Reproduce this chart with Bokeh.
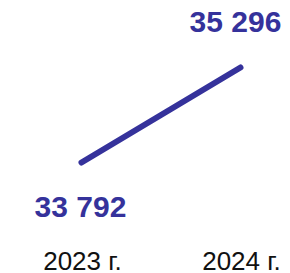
from bokeh.plotting import figure
from bokeh.models import Range1d, ColumnDataSource
from bokeh.embed import file_html
from bokeh.resources import INLINE
from bokeh.core.properties import value

years = [2023, 2024]
year_labels = ["2023 г.", "2024 г."]
values = [33792, 35296]
value_labels = ["33 792", "35 296"]

LINE_COLOR = "#35329b"

y_range = Range1d(32035, 36357)
x_range = Range1d(2022.4906, 2024.3145)

src = ColumnDataSource(dict(x=years, y=values, label=value_labels))
src_low = ColumnDataSource(dict(x=years[:1], y=values[:1], label=value_labels[:1]))
src_high = ColumnDataSource(dict(x=years[1:], y=values[1:], label=value_labels[1:]))
src_ticks = ColumnDataSource(dict(x=years, y=[y_range.start] * len(years), label=year_labels))

p = figure(width=290, height=273, output_backend="svg", toolbar_location=None,
           x_range=x_range, y_range=y_range,
           min_border_left=0, min_border_right=0, min_border_top=0, min_border_bottom=0)

p.line("x", "y", source=src, line_color=LINE_COLOR, line_width=6, line_cap="round")

font = value("Liberation Sans")
p.text("x", "y", text="label", source=src_low, text_font=font, text_font_size="30px",
       text_font_style="bold", text_color=LINE_COLOR, text_align="center",
       text_baseline="middle", y_offset=44, x_offset=-1)
p.text("x", "y", text="label", source=src_high, text_font=font, text_font_size="30px",
       text_font_style="bold", text_color=LINE_COLOR, text_align="center",
       text_baseline="middle", y_offset=-46, x_offset=-5)

# category (year) labels along the bottom edge
p.text("x", "y", text="label", source=src_ticks, text_font=font, text_font_size="26px",
       text_color="#111111", text_align="center", text_baseline="middle",
       y_offset=-13, x_offset=1)

p.xaxis.visible = False
p.yaxis.visible = False
p.xgrid.visible = False
p.ygrid.visible = False
p.outline_line_color = None
p.background_fill_color = "white"
p.border_fill_color = "white"

open("out.html", "w").write(file_html(p, INLINE))
